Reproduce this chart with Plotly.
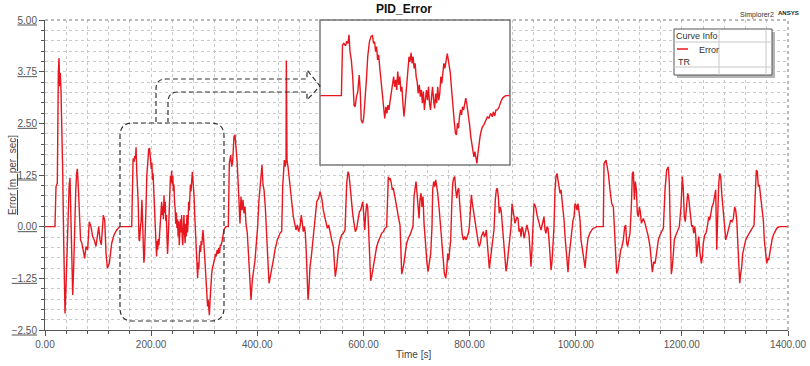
import plotly.graph_objects as go

# ---------------- data ----------------
time_s = [
    0, 18.8, 20.7, 23.2, 25.1, 26.4, 27.7, 28.8, 30.1, 31.5, 33.4, 35.2, 37.7, 39.5, 41.5, 43.5, 45.5, 47.1, 48.7,
    50.3, 52.2, 54, 56, 58, 59.7, 60.9, 62.5, 64.4, 67, 69.5, 72.2, 74.8, 77.2, 80.4, 83.4, 86.6, 89.8, 92.8, 96,
    98.5, 101.2, 103.6, 106.1, 109.9, 112.5, 115, 117.5, 121.3, 125.7, 130, 135.1, 139.4, 141.3, 163.4,
    164.6, 166.0, 167.9, 169.0, 170.5, 171.6, 172.7, 174.1, 175.6, 177.1, 178.2, 179.7, 181.1, 182.6, 183.7, 184.8,
    186.3, 187.4, 188.9, 190.4, 191.8, 193.7, 195.5, 197.0, 198.1, 199.2, 200.3, 201.4, 202.5, 203.6, 204.7, 205.8,
    206.9, 208.0, 209.1, 210.2, 211.4, 212.5, 213.6, 214.7, 216.1, 217.6, 218.7, 219.8, 220.9, 222.0, 223.1, 224.2,
    225.4, 226.5, 227.6, 228.7, 229.8, 230.9, 232.0, 233.1, 234.2, 235.3, 236.4, 237.5, 238.6, 239.7, 240.8, 241.9,
    243.0, 244.1, 245.2, 246.3, 247.5, 248.6, 249.7, 250.8, 251.9, 253.0, 254.1, 255.2, 256.3, 257.4, 258.5, 259.6,
    260.7, 261.8, 262.9, 264.0, 265.1, 266.2, 267.4, 268.5, 269.6, 270.7, 271.8, 272.9, 274.0, 275.1, 276.2, 277.7,
    278.8, 279.9, 281.0, 282.1, 283.2, 284.3, 285.4, 286.5, 287.6, 288.7, 289.8, 290.9, 292.0, 293.1, 294.2, 295.4,
    296.5, 297.6, 298.7, 299.8, 300.9, 302.0, 303.1, 304.2, 305.3, 306.4, 307.5, 308.6, 309.7, 310.8, 311.9, 313.0,
    314.1, 315.6, 317.1, 318.6, 320.0, 321.1, 322.6, 324.4, 326.3, 327.4, 328.9, 330.3, 331.8, 333.7, 335.5, 337.3,
    339.2, 341.0, 345.4,
    347.3, 349.9, 351.8, 353.6, 356.1, 358, 359.9, 361.8, 363.7, 365.6, 367.4, 369.3, 371.2, 373.1, 375, 376.9,
    378.7, 381.2, 383.8, 386.3, 388.2, 390.7, 393.2, 395.7, 398.2, 400.7, 403.2, 405.1, 407, 408.9, 410.8, 412.7,
    415.1, 417.8, 420.2, 422.1, 424, 427.2, 430.2, 433.4, 437.7, 442.8, 446, 447.9, 449, 450.9, 452.8, 454.2,
    454.7, 455.2, 456, 457.9, 459.8, 461.7, 463.5, 465.4, 467.9, 470.5, 473, 475.4, 478, 480.5, 483, 484.9, 486.7,
    488.6, 490.5, 492.4, 494.3, 495.6, 497.5, 499.3, 501.8, 504.4, 507.5, 510.1, 512, 513.9, 515.7, 518.2, 520.1,
    522, 524.4, 527.1, 529.5, 532, 534.5, 537, 540.2, 543.3, 545.2, 547, 549.7, 552.7, 555.9, 559.1, 562.1, 565.3,
    568.5, 571, 572.9, 574.7, 577.2, 579.7, 582.3, 584.7, 587.3, 589.8, 592.3, 594.8, 596.7, 598.6, 600.5, 602.4,
    604.3, 606.2, 608, 609.9, 611.8, 613.7, 615.6, 618.6, 621.8, 625, 628.1, 631.2, 634.4, 637.5, 640.6, 643.8,
    646.9, 648.8, 650.7, 652.6, 654.4, 656.3, 659.5, 662.7, 665.8, 668.9,
    670.5, 672.1, 675.2, 678.3, 681.5, 684.6, 687.8, 691, 693.4, 695.3, 697.2, 699.1, 701, 702.9, 704.8, 706.6,
    708.5, 710.4, 712.3, 714.2, 716, 717.9, 719.8, 721.7, 724.2, 726.8, 729.2, 730.5, 732.4, 734.3, 736.2, 738.1,
    740, 742.4, 744.9, 747.5, 750, 752.5, 755, 756.9, 758.8, 760.7, 762.6, 764.5, 766.3, 768.2, 770.1, 772,
    773.9, 775.8, 777.7, 779.6, 781.4, 783.3, 785.8, 788.3, 790.8, 793.3, 795.9, 797.7, 799.6, 801.5, 803.4, 805.3,
    807.1, 809, 810.9, 812.8, 814.6, 816.5, 818.4, 820.3, 822.2, 824, 825.9, 827.8, 829.7, 831.6, 833.4, 835.3,
    837.2, 839.1, 841, 843.5, 846, 848.5, 850.4, 852.3, 854.2, 856, 857.9, 859.8, 861.7, 863.6, 866.2, 868.7,
    870.6, 872.4, 874.3, 876.2, 878.1, 880, 881.9, 883.7, 885.6, 887.5, 889.4, 891.3, 893.2, 895, 896.9, 898.8,
    900.7, 902.6, 904.4, 906.3, 908.2, 910.1, 912, 913.9, 915.7, 917.6, 919.5, 921.4, 923.3, 925.2, 927.1, 929,
    930.8, 932.7, 934.6, 936.5, 938.4, 940.3, 942.1, 944, 945.9, 947.8, 949.7, 951.6, 953.5, 955.3, 957.2, 959.1,
    961, 962.9, 964.8, 966.7, 968.5, 970.4, 972.3, 974.2, 976.1, 978, 979.9, 981.7, 983.6, 985.5, 987.4, 989.3,
    991.2, 993, 994.9, 996.8, 998.7, 1000.6, 1002.5, 1004.3, 1006.2, 1008.1, 1010, 1011.9, 1013.8, 1015.6, 1017.5,
    1019.4, 1021.3, 1023.2, 1027, 1032, 1039.6, 1052,
    1053.3, 1057.1, 1061.5, 1064.6, 1067.8, 1070.9, 1072.7, 1074.6, 1077.2, 1079.7, 1082.2, 1084.8, 1087.2, 1089.7,
    1092.3, 1094.2, 1096.1, 1098, 1099.9, 1102.3, 1104.8, 1106.7, 1108.6, 1110.5, 1112.4, 1114.3, 1116.1, 1118,
    1119.9, 1121.8, 1123.7, 1125.6, 1127.4, 1130.6, 1133.8, 1136.8, 1140, 1142.5, 1144.4, 1147, 1149.5, 1151.4,
    1153.2, 1155.7, 1158.8, 1162, 1165.1, 1168.3, 1171.4, 1174.5, 1176.4, 1178.3, 1180.2, 1182.1, 1184, 1185.9,
    1187.7, 1190.3, 1192.8, 1195.2, 1198.4, 1200.9, 1202.8, 1204.6, 1206.5, 1208.4, 1211, 1212.9, 1214.7, 1216.6,
    1218.5, 1220.4, 1222.3, 1224.2, 1226.1, 1227.9, 1229.8, 1231.7, 1234.2, 1236.7, 1238.6, 1240.4, 1243.1, 1245.5,
    1248, 1250.6, 1252.5, 1254.4, 1256.8, 1259.3, 1261.9, 1263.8, 1265.7, 1267.6, 1269.5, 1271.3, 1273.2, 1275.1,
    1277, 1278.9, 1280.8, 1282.7, 1284.5, 1287, 1289.4, 1292, 1294.5, 1297, 1299.6, 1301.5, 1303.4, 1305.3, 1307.1,
    1309, 1310.9, 1312.8, 1314.7, 1317.1, 1320.3, 1323.3, 1326.5, 1329.7, 1332.8, 1336, 1338.4, 1340.3, 1342.2,
    1344.1, 1346, 1347.9, 1349.8, 1351.6, 1353.5, 1355.4, 1358, 1359.9, 1361.8, 1363.7, 1365.6, 1367.5, 1369.9,
    1372.4, 1375.6, 1378.8, 1383.6, 1400,
]
error_mps = [
    0, 0, 0.97, 1.05, 3.70, 4.08, 3.40, 3.72, 3.32, 2.68, 1.29, -0.32, -2.10, -1.5, -0.6, 0.3, 1.0, 1.18, 0.4,
    -0.8, -1.65, -1.0, 0.1, 0.9, 1.30, 1.40, 1.05, 0.48, -0.32, -0.40, -0.56, -0.77, -0.48, -0.56, 0.12, 0.0, -0.24, -0.32, -0.48,
    -0.24, 0.0, -0.32, -0.44, 0.28, 0.16, -0.64, -1.0, -0.88, -0.40, -0.20, -0.08, -0.02, 0, 0,
    1.60, 1.65, 1.57, 1.71, 1.65, 1.92, 1.39, 1.13, 0.60, -0.30, -0.35, -0.03, 0.13, 0.65, 0.18, -0.77,
    -0.87, -0.72, -0.24, 0.50, 1.23, 1.71, 1.88, 1.90, 1.65, 1.71, 1.39, 1.55, 1.13, 1.29, 0.92, 0.60,
    0.28, -0.14, -0.45, -0.72, -0.35, -0.56, -0.30, -0.45, -0.14, 0.18, 0.34, 0.60, 0.28, 0.50, 0.18, 0.76,
    0.34, 0.60, 0.13, 0.28, -0.24, -0.66, -0.35, 0.07, 0.60, 0.92, 1.23, 1.07, 1.35, 1.02, 1.23, 0.86,
    1.02, 0.60, 0.44, 0.07, 0.34, -0.03, 0.18, -0.24, 0.13, -0.45, -0.08, 0.18, -0.14, 0.28, -0.24, -0.45,
    -0.03, 0.28, -0.14, -0.40, 0.07, -0.24, 0.28, -0.14, 0.07, 0.60, 0.39, 0.81, 1.02, 0.86, 1.13, 1.33,
    1.13, 0.97, 0.71, 0.28, -0.03, -0.45, -0.87, -1.19, -1.24, -0.87, -1.03, -0.66, -0.45, -0.61, -0.35, -0.45,
    -0.19, -0.08, -0.24, -0.45, -0.66, -0.98, -1.30, -1.51, -1.72, -1.93, -1.77, -1.98, -2.14, -1.82, -1.51, -1.30,
    -1.14, -0.98, -0.93, -0.82, -0.77, -0.66, -0.72, -0.56, -0.66, -0.51, -0.64, -0.45, -0.45, -0.35, -0.19, -0.08,
    -0.03, 0, 0,
    1.53, 1.73, 1.45, 1.57, 2.18, 2.22, 1.94, 1.61, 1.13, 0.40, 0.08, 0.73, 0.40, 0.65, 0.32, 0.48,
    0.08, -0.16, -0.73, -1.45, -1.77, -1.29, -1.05, -0.81, -0.40, 0.0, 0.65, 0.97, 1.21, 1.49, 1.01, 0.89,
    0.48, -0.16, -0.97, -1.37, -1.25, -1.05, -0.81, -0.56, -0.32, -0.16, -0.11, 0.97, 1.37, 1.61, 1.45, 1.60,
    4.02, 1.70, 1.61, 1.45, 1.21, 0.97, 0.65, 0.40, 0.24, 0.08, -0.08, 0.04, -0.12, 0.0, 0.28, 0.08, -0.12,
    0.0, -0.16, -0.65, -1.45, -1.77, -1.45, -0.97, -0.73, -0.40, -0.08, 0.40, 0.60, 0.65, 0.69, 0.85, 0.73,
    0.65, 0.40, 0.24, 0.08, -0.04, 0.04, -0.16, -0.32, -0.48, -0.89, -1.21, -0.97, -0.56, -0.32, -0.20, -0.16, -0.08,
    1.05, 1.33, 1.25, 0.97, 0.65, 0.32, 0.08, -0.12, -0.04, 0.20, 0.36, 0.40, 0.56, 0.60, 0.32, -0.08,
    0.32, 0.56, 0.48, -0.16, -0.81, -1.31, -1.21, -0.97, -0.73, -0.48, -0.36, -0.24, -0.16, -0.12, -0.04, 0.0,
    1.21, 1.13, 1.17, 1.05, 0.89, 0.93, 0.73, 0.48, 0.24, 0.04,
    -0.5, -1.15, -0.97, -0.65, -0.40, -0.28, -0.20, -0.08, 0.0, 0.73, 0.97, 1.09, 0.81, 0.48, 0.20, 0.65,
    0.81, 0.48, 0.73, 0.08, -0.32, -0.65, -0.89, -1.09, -0.89, -0.65, 0.0, 0.89, 1.09, 0.97, 1.13, 0.97,
    0.81, 0.48, 0.08, -0.32, -0.73, -1.13, -1.25, -1.05, -0.65, -0.81, -0.56, -0.32, 0.48, 1.05, 1.17, 1.21,
    0.89, 0.69, 0.89, 0.93, 0.56, 0.16, -0.16, -0.32, -0.24, -0.32, -0.24, -0.16, 0.0, 0.48, 0.77, 0.56,
    0.40, 0.16, 0.0, -0.16, -0.32, -0.40, -0.48, -0.40, -0.24, -0.16, -0.12, -0.24, -0.20, -0.08, -0.32, -0.65,
    -1.01, -0.81, -0.56, -0.32, -0.08, 0.65, 0.89, 0.93, 0.73, 0.32, 0.48, 0.36, 0.08, -0.32, -0.65, -1.08,
    -0.93, -0.73, -0.56, -0.24, 0.0, 0.56, 0.40, 0.20, 0.08, 0.16, 0.24, 0.20, -0.12, -0.04, -0.24, 0.0,
    -0.08, -0.28, -0.16, -0.08, 0.04, -0.08, -0.20, -0.56, -0.97, -0.56, -0.08, 0.56, 0.52, 0.44, 0.28, 0.16,
    0.08, 0.0, -0.08, 0.04, 0.16, 0.24, -0.08, -0.16, 0.0, -0.04, -0.32, -0.65, -1.05, -0.85, -0.48, 0.0,
    0.89, 1.21, 1.29, 1.13, 0.97, 0.81, 0.89, 0.69, 0.48, 0.16, -0.24, -0.56, -0.81, -1.10, -0.73, -0.48,
    -0.24, 0.0, 0.16, 0.24, 0.56, 0.52, 0.40, 0.56, 0.40, 0.16, -0.32, -0.48, -0.56, -0.81, -1.0,
    -0.81, -0.48, -0.28, -0.15, -0.05, 0.0, 0.0,
    1.53, 1.61, 1.29, 0.89, 0.56, 0.48, 0.0, -0.56, -1.13, -1.05, -0.81, -0.56, -0.48, -0.32,
    0.0, 0.04, -0.40, -0.48, -0.32, -0.16, 0.48, 1.29, 1.33, 0.65, 1.09, 0.89, 0.32, 0.24,
    0.48, 0.36, 0.08, 0.16, 0.20, 0.08, -0.08, -0.24, -0.48, -0.81, -1.10, -0.85, -0.89, -0.73,
    -0.48, -0.32, -0.20, -0.12, -0.04, 0.89, 1.37, 1.45, 1.05, -0.08, -1.15, -0.97, -0.56, -0.32,
    -0.24, -0.16, -0.08, 0.0, 0.48, 1.21, 0.89, 0.24, 0.12, 0.48, 0.81, 0.69, 0.48, 0.24,
    0.0, 0.04, -0.16, 0.0, -0.20, -0.73, -0.40, -0.24, -0.65, -0.89, -0.73, -0.40, -0.20, -0.16,
    0.0, 0.24, 0.16, 0.32, 0.48, 0.56, 0.81, 0.89, -0.56, 0.48, 1.05, 1.29, 1.21, 0.81,
    0.56, 0.32, 0.0, -0.32, -0.24, -0.08, 0.08, 0.16, 0.12, 0.20, 0.48, 0.40, 0.16, -0.32, -0.97,
    -1.37, -1.13, -0.97, -0.65, -0.48, -0.32, -0.24, -0.16, -0.08, -0.04, 0.04, 0.81, 1.37, 1.33,
    0.97, 1.01, 0.81, 0.69, 0.48, 0.16, -0.32, -0.73, -0.89, -0.77, -0.81, -0.65, -0.48, -0.32,
    -0.20, -0.10, -0.04, 0.0, 0.0,
]

x_tick_vals = [0, 200, 400, 600, 800, 1000, 1200, 1400]
y_tick_vals = [-2.5, -1.25, 0.0, 1.25, 2.5, 3.75, 5.0]

# ---------------- layout helpers (page pixel -> paper) ----------------
W, H = 810, 366
L, R, T, B = 45, 788, 20, 330          # plot area in page pixels


def px(x):
    return (x - L) / (R - L)


def py(y):
    return (B - y) / (B - T)


RED = "#e8161e"
FONT = "Arial, Liberation Sans, sans-serif"

fig = go.Figure()
fig.add_trace(go.Scatter(x=time_s, y=error_mps, mode="lines",
                         line=dict(color=RED, width=1.4), name="Error",
                         showlegend=False, hoverinfo="skip"))
# zoomed inset: same data on a second pair of axes
fig.add_trace(go.Scatter(x=time_s, y=error_mps, mode="lines",
                         line=dict(color=RED, width=1.4), xaxis="x2", yaxis="y2",
                         showlegend=False, hoverinfo="skip"))

grid = dict(showgrid=True, gridcolor="#c9c9c9", griddash="dot", gridwidth=1)
fig.update_layout(
    width=W, height=H, autosize=False,
    margin=dict(l=L, r=W - R, t=T, b=H - B, autoexpand=False),
    paper_bgcolor="white", plot_bgcolor="white",
    font=dict(family=FONT, color="#444", size=10),
    showlegend=False,
    xaxis=dict(range=[0, 1400], tickvals=x_tick_vals, tickformat=".2f",
               ticks="outside", ticklen=5, tickcolor="#555", tickwidth=1,
               showline=True, linecolor="#555", linewidth=1, zeroline=False,
               automargin=False,
               tickfont=dict(size=10, color="#555", family=FONT),
               minor=dict(dtick=40, ticks="outside", ticklen=3, tickcolor="#555",
                          showgrid=True, gridcolor="#c9c9c9", griddash="dot"),
               **grid),
    yaxis=dict(range=[-2.5, 5.0], tickvals=y_tick_vals, tickformat=".2f",
               ticks="outside", ticklen=5, tickcolor="#555", tickwidth=1,
               showline=True, linecolor="#555", linewidth=1, zeroline=False,
               automargin=False,
               tickfont=dict(size=10, color="#555", family=FONT, lineposition="under"),
               minor=dict(dtick=0.25, tick0=0, ticks="outside", ticklen=3, tickcolor="#555",
                          showgrid=True, gridcolor="#c9c9c9", griddash="dot"),
               **grid),
    xaxis2=dict(domain=[px(320), px(510)], range=[140.3, 345.4], anchor="y2",
                showticklabels=False, showgrid=False, zeroline=False, showline=False, ticks=""),
    yaxis2=dict(domain=[py(165), py(20)], range=[-2.19, 2.39], anchor="x2",
                showticklabels=False, showgrid=False, zeroline=False, showline=False, ticks=""),
)

shapes = []
# dotted top / right frame
shapes.append(dict(type="line", xref="paper", yref="paper", x0=0, x1=1, y0=1, y1=1,
                   line=dict(color="#777", width=1, dash="dot")))
shapes.append(dict(type="line", xref="paper", yref="paper", x0=1, x1=1, y0=0, y1=1,
                   line=dict(color="#777", width=1, dash="dot")))
# inset frame
shapes.append(dict(type="rect", xref="paper", yref="paper", x0=px(320), x1=px(510),
                   y0=py(165), y1=py(20), line=dict(color="#7a7a7a", width=1.5)))


def rounded_rect(x0, y0, x1, y1, r):
    pts = [
        f"M {px(x0 + r)},{py(y0)}", f"L {px(x1 - r)},{py(y0)}",
        f"Q {px(x1)},{py(y0)} {px(x1)},{py(y0 + r)}", f"L {px(x1)},{py(y1 - r)}",
        f"Q {px(x1)},{py(y1)} {px(x1 - r)},{py(y1)}", f"L {px(x0 + r)},{py(y1)}",
        f"Q {px(x0)},{py(y1)} {px(x0)},{py(y1 - r)}", f"L {px(x0)},{py(y0 + r)}",
        f"Q {px(x0)},{py(y0)} {px(x0 + r)},{py(y0)}", "Z",
    ]
    return " ".join(pts)


DASH = dict(color="#333", width=1.2, dash="5px,3px")
shapes.append(dict(type="path", xref="paper", yref="paper",
                   path=rounded_rect(120, 123, 224, 321, 13), line=DASH))
arrow = " ".join([
    f"M {px(156)},{py(122)}", f"L {px(156)},{py(89)}",
    f"Q {px(156)},{py(79)} {px(166)},{py(79)}", f"L {px(307)},{py(79)}",
    f"L {px(307)},{py(70)}", f"L {px(320)},{py(86)}", f"L {px(307)},{py(100)}",
    f"L {px(307)},{py(92)}", f"L {px(178)},{py(92)}",
    f"Q {px(168)},{py(92)} {px(168)},{py(102)}", f"L {px(168)},{py(122)}",
])
shapes.append(dict(type="path", xref="paper", yref="paper", path=arrow, line=DASH))

# legend table ("Curve Info")
shapes.append(dict(type="rect", xref="paper", yref="paper", x0=px(677), x1=px(775),
                   y0=py(78), y1=py(32), line=dict(width=0), fillcolor="#b5b5b5"))
shapes.append(dict(type="rect", xref="paper", yref="paper", x0=px(674), x1=px(772),
                   y0=py(75), y1=py(29), line=dict(color="#555", width=1), fillcolor="white"))
for yy in (42, 67):
    shapes.append(dict(type="line", xref="paper", yref="paper", x0=px(674), x1=px(772),
                       y0=py(yy), y1=py(yy), line=dict(color="#c8c8c8", width=1)))
for xx in (719, 766):
    shapes.append(dict(type="line", xref="paper", yref="paper", x0=px(xx), x1=px(xx),
                       y0=py(29), y1=py(75), line=dict(color="#c8c8c8", width=1)))
shapes.append(dict(type="line", xref="paper", yref="paper", x0=px(677), x1=px(688),
                   y0=py(49), y1=py(49), line=dict(color=RED, width=1.5)))
fig.update_layout(shapes=shapes)

ann = []


def text(x, y, s, size=10, color="#444", xanchor="center", bold=False, angle=0, under=False):
    f = dict(family=FONT, size=size, color=color)
    if bold:
        f["weight"] = "bold"
    if under:
        f["lineposition"] = "under"
    ann.append(dict(x=px(x), y=py(y), xref="paper", yref="paper", text=s, showarrow=False,
                    xanchor=xanchor, yanchor="middle", font=f, textangle=angle))


text(404, 9, "PID_Error", size=12, color="#111", bold=True)
text(757, 15, "Simplorer2", size=7, color="#333")
text(788, 13, "ANSYS", size=6, color="#222", bold=True)
text(413, 354, "Time [s]", size=10, color="#444")
text(12, 175, "Error [m_per_sec]", size=10, color="#444", angle=-90, under=True)
text(697, 36, "Curve Info", size=9, color="#333")
text(697, 50, "Error", size=9, color="#333", xanchor="left")
text(676, 62, "TR", size=9, color="#333", xanchor="left")
fig.update_layout(annotations=ann)

# remove the browser's default 8px body margin so the figure sits at the page origin
fig.write_html("out.html", config={"displayModeBar": False},
               post_script="document.body.style.margin='0px';")
